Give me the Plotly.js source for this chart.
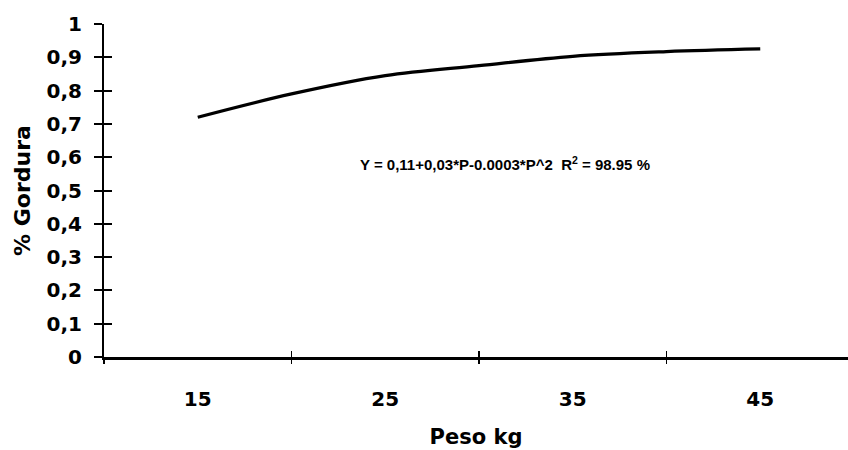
<!DOCTYPE html>
<html><head><meta charset="utf-8">
<script src="https://cdn.plot.ly/plotly-3.0.1.min.js"></script>
<style>html,body{margin:0;padding:0;background:#fff}#chart{width:848px;height:450px}</style>
</head><body><div id="chart"></div>
<script>
// Data
const peso = [15, 20, 25, 30, 35, 40, 45];
const gordura = [0.72, 0.79, 0.845, 0.875, 0.903, 0.917, 0.925];
const xLabelVals = [15, 25, 35, 45];
const xLabelText = ['15', '25', '35', '45'];
const xTickVals = [10, 20, 30, 40];
const yTickVals = [0, 0.1, 0.2, 0.3, 0.4, 0.5, 0.6, 0.7, 0.8, 0.9, 1];
const yTickText = ['0', '0,1', '0,2', '0,3', '0,4', '0,5', '0,6', '0,7', '0,8', '0,9', '1'];
const equation = 'Y = 0,11+0,03*P-0.0003*P^2  R<sup>2</sup> = 98.95 %';

const XR = [10, 49.68];
const YR = [0, 1];
const bold = {family: 'DejaVu Sans, sans-serif', weight: 'bold', color: '#000'};

const traces = [
  {x: peso, y: gordura, type: 'scatter', mode: 'lines',
   line: {color: '#000', width: 3.2, shape: 'spline', smoothing: 1}, hoverinfo: 'skip'},
  {x: [], y: [], xaxis: 'x2', yaxis: 'y', type: 'scatter'},
  {x: [], y: [], xaxis: 'x3', yaxis: 'y', type: 'scatter'},
  {x: [], y: [], xaxis: 'x', yaxis: 'y2', type: 'scatter'}
];

const layout = {
  width: 848, height: 450,
  margin: {l: 104, r: 0, t: 24, b: 93},
  paper_bgcolor: '#fff', plot_bgcolor: '#fff',
  showlegend: false,
  xaxis: {
    range: XR, showgrid: false, zeroline: false,
    showline: true, linecolor: '#000', linewidth: 2.5,
    tickmode: 'array', tickvals: xLabelVals, ticktext: xLabelText,
    ticks: '', ticklabelstandoff: 22,
    tickfont: Object.assign({size: 20}, bold),
    title: {text: 'Peso kg', font: Object.assign({size: 21}, bold), standoff: 20}
  },
  xaxis2: {
    range: XR, overlaying: 'x', anchor: 'y', side: 'bottom',
    showgrid: false, zeroline: false, showline: false, showticklabels: false,
    tickmode: 'array', tickvals: xTickVals,
    ticks: 'outside', ticklen: 6, tickwidth: 1.5, tickcolor: '#000'
  },
  xaxis3: {
    range: XR, overlaying: 'x', anchor: 'y', side: 'bottom',
    showgrid: false, zeroline: false, showline: false, showticklabels: false,
    tickmode: 'array', tickvals: xTickVals.slice(1),
    ticks: 'inside', ticklen: 6, tickwidth: 1.5, tickcolor: '#000'
  },
  yaxis: {
    range: YR, showgrid: false, zeroline: false,
    showline: true, linecolor: '#000', linewidth: 2,
    tickmode: 'array', tickvals: yTickVals, ticktext: yTickText,
    ticks: 'outside', ticklen: 8, tickwidth: 2, tickcolor: '#000',
    ticklabelstandoff: 8,
    tickfont: Object.assign({size: 20}, bold),
    title: {text: '% Gordura', font: Object.assign({size: 22}, bold), standoff: 10}
  },
  yaxis2: {
    range: YR, overlaying: 'y', anchor: 'x', side: 'left',
    showgrid: false, zeroline: false, showline: false, showticklabels: false,
    tickmode: 'array', tickvals: yTickVals,
    ticks: 'inside', ticklen: 8, tickwidth: 2, tickcolor: '#000'
  },
  annotations: [{
    x: 31.4, y: 0.58, xref: 'x', yref: 'y', showarrow: false,
    text: equation,
    font: {family: 'Liberation Sans Narrow, Arial Narrow, sans-serif', weight: 'bold', size: 15, color: '#000'}
  }]
};

Plotly.newPlot('chart', traces, layout, {staticPlot: true, displayModeBar: false});
</script></body></html>
